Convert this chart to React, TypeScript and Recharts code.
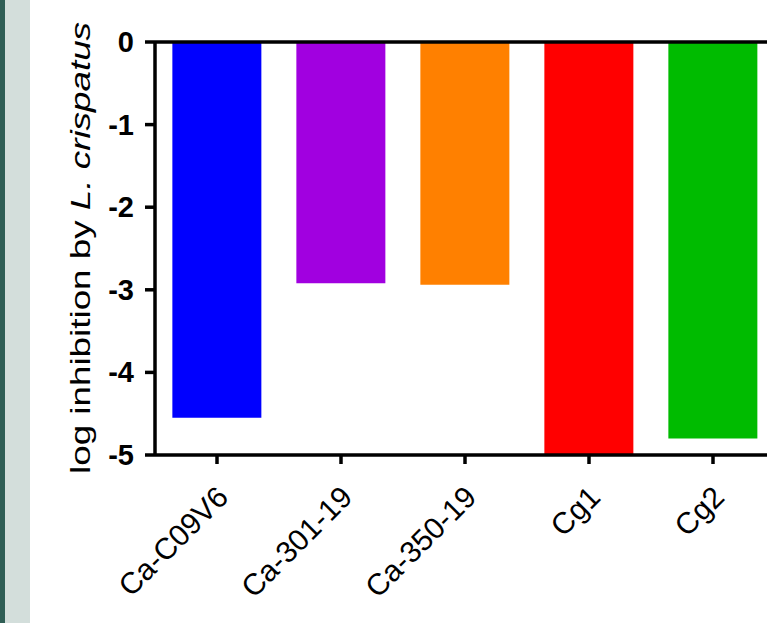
import React from 'react';
import { BarChart, Bar, XAxis, YAxis, Cell, ReferenceLine } from 'recharts';

const strains = ['Ca-C09V6', 'Ca-301-19', 'Ca-350-19', 'Cg1', 'Cg2'];
const logInhibition = [-4.55, -2.92, -2.94, -5, -4.8];
const barColors = ['#0000ff', '#a100e0', '#ff8000', '#ff0000', '#00bb00'];
const yTicks = [0, -1, -2, -3, -4, -5];

const FONT = 'Liberation Sans, Arial, sans-serif';

const YLabel = () => (
  <text
    x={80}
    y={248}
    transform="rotate(-90, 80, 248)"
    textAnchor="middle"
    dominantBaseline="central"
    fontFamily={FONT}
    fontSize={28}
    fill="#000"
    textLength={452}
    lengthAdjust="spacingAndGlyphs"
  >
    log inhibition by <tspan fontStyle="italic">L. crispatus</tspan>
  </text>
);

const YTick = (props: any) => {
  const { x, y, payload } = props;
  return (
    <text
      x={x - 11}
      y={y + 10}
      textAnchor="end"
      fontFamily={FONT}
      fontSize={29}
      fontWeight="bold"
      fill="#000"
    >
      {payload.value}
    </text>
  );
};

const XTick = (props: any) => {
  const { x, y, payload } = props;
  return (
    <g transform={`translate(${x + 13}, ${y + 33})`}>
      <text
        x={0}
        y={0}
        transform="rotate(-45)"
        textAnchor="end"
        fontFamily={FONT}
        fontSize={30}
        fill="#000"
      >
        {payload.value}
      </text>
    </g>
  );
};

export default function App() {
  const data = strains.map((name, i) => ({ name, value: logInhibition[i] }));
  return (
    <div
      style={{
        position: 'fixed',
        left: 0,
        top: 0,
        width: 767,
        height: 623,
        overflow: 'hidden',
        background: '#fff',
      }}
    >
      <div style={{ position: 'absolute', left: 0, top: 0, width: 5, height: 623, background: '#2f5e55' }} />
      <div style={{ position: 'absolute', left: 5, top: 0, width: 25, height: 623, background: '#d3dedb' }} />
      <div style={{ position: 'absolute', left: 0, top: 0 }}>
        <BarChart
          width={780}
          height={623}
          data={data}
          margin={{ top: 42, right: 5, bottom: 8, left: 0 }}
          barCategoryGap="14%"
        >
          <YAxis
            width={155}
            domain={[-5, 0]}
            ticks={yTicks}
            interval={0}
            axisLine={{ stroke: '#000', strokeWidth: 3.5 }}
            tickLine={{ stroke: '#000', strokeWidth: 3.5 }}
            tickSize={10}
            tickMargin={0}
            tick={<YTick />}
            label={<YLabel />}
          />
          <XAxis
            dataKey="name"
            height={160}
            interval={0}
            axisLine={{ stroke: '#000', strokeWidth: 3.5 }}
            tickLine={{ stroke: '#000', strokeWidth: 3.5 }}
            tickSize={9}
            tick={<XTick />}
          />
          <ReferenceLine y={0} stroke="#000" strokeWidth={3.5} ifOverflow="extendDomain" />
          <Bar dataKey="value" isAnimationActive={false}>
            {data.map((d, i) => (
              <Cell key={d.name} fill={barColors[i]} />
            ))}
          </Bar>
        </BarChart>
      </div>
    </div>
  );
}
